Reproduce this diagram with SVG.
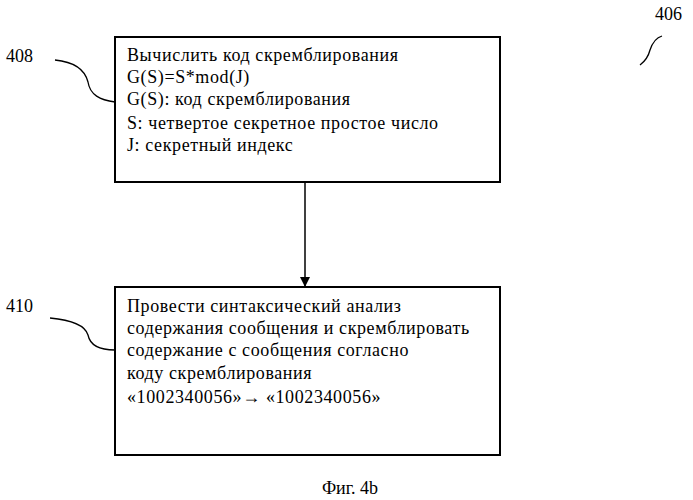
<svg xmlns="http://www.w3.org/2000/svg" width="693" height="500" viewBox="0 0 693 500">
<defs>
<style>
text{font-family:"Liberation Serif","DejaVu Serif",serif;font-size:18px;letter-spacing:0.6px;fill:#000}
.box{fill:#fff;stroke:#000;stroke-width:2}
.lead{fill:none;stroke:#000;stroke-width:1.3}
</style>
<marker id="ah" markerWidth="10" markerHeight="10" refX="9" refY="5" orient="auto" markerUnits="userSpaceOnUse">
<path d="M0,0 L10,5 L0,10 Z" fill="#000"/>
</marker>
</defs>
<rect width="693" height="500" fill="#fff"/>
<g id="ref406">
<text x="655" y="20" style="letter-spacing:0">406</text>
<path class="lead" d="M662,36 C655,38 652,44 650,50 C648,58 644,62 640,65"/>
</g>
<g id="node408">
<text x="6" y="62" style="letter-spacing:0">408</text>
<path class="lead" d="M55,60 C75,62 85,70 88,82 C90,95 100,100 115,102"/>
<rect class="box" x="115" y="37" width="385" height="145"/>
<text x="127" y="61">Вычислить  код скремблирования</text>
<text x="127" y="83">G(S)=S*mod(J)</text>
<text x="127" y="105">G(S): код скремблирования</text>
<text x="127" y="129">S: четвертое секретное простое число</text>
<text x="127" y="151">J:  секретный индекс</text>
</g>
<g id="node410">
<text x="6" y="312" style="letter-spacing:0">410</text>
<path class="lead" d="M50,318 C72,320 85,325 88,335 C90,345 100,350 115,350"/>
<rect class="box" x="115" y="287" width="385" height="168"/>
<text x="127" y="312">Провести синтаксический анализ</text>
<text x="127" y="334">содержания сообщения и скремблировать</text>
<text x="127" y="356">содержание с сообщения согласно</text>
<text x="127" y="379">коду скремблирования</text>
<text x="127" y="403">«1002340056»→ «1002340056»</text>
</g>
<g id="connectors">
<line x1="305" y1="182" x2="305" y2="286" stroke="#000" stroke-width="1.5" marker-end="url(#ah)"/>
</g>
<text x="350" y="494" text-anchor="middle" style="font-size:18px;letter-spacing:0">Фиг. 4b</text>
</svg>
